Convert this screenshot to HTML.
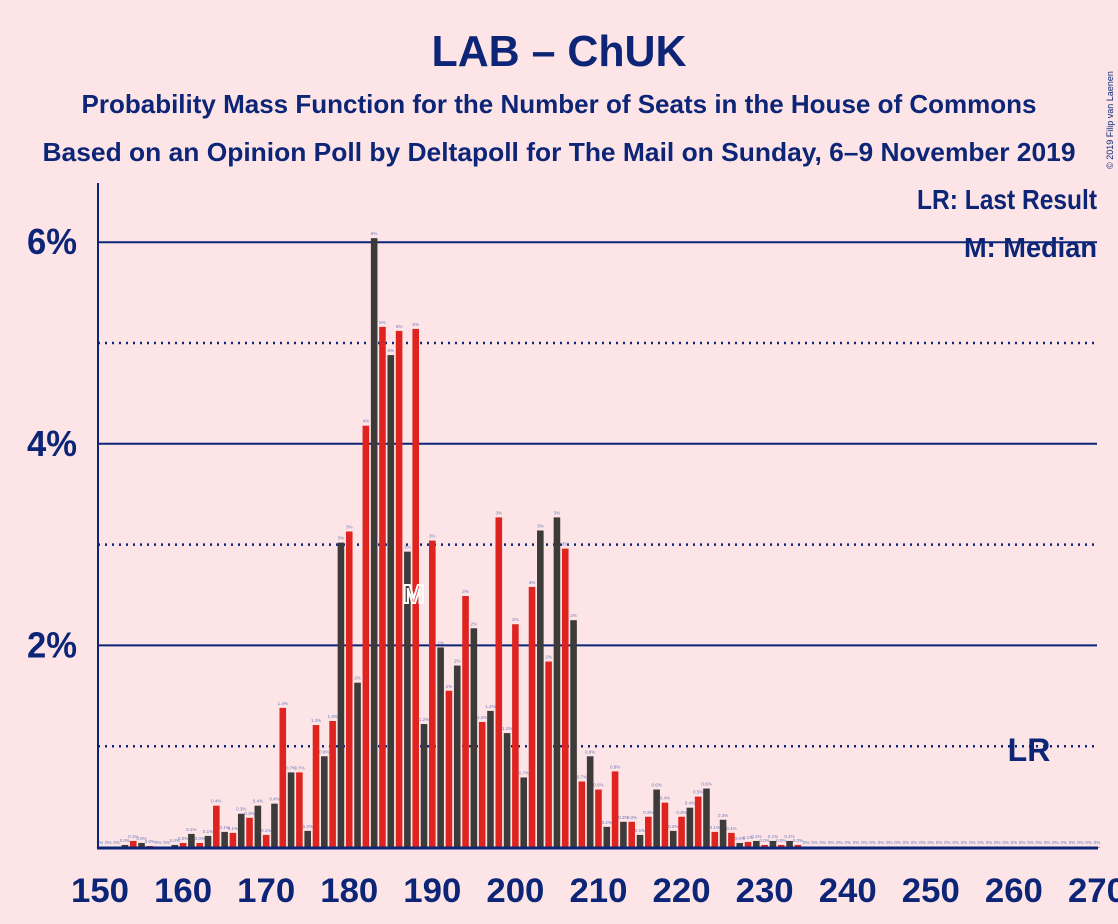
<!DOCTYPE html>
<html><head><meta charset="utf-8"><style>
body{margin:0;background:#fde5e7;overflow:hidden;}
svg{display:block;font-family:"Liberation Sans",sans-serif;}
</style></head><body>
<svg id="chart" width="1118" height="924" viewBox="0 0 1118 924">
<rect width="1118" height="924" fill="#fde5e7"/>
<text x="559" y="66" text-anchor="middle" font-size="44" font-weight="bold" fill="#0c2577" textLength="255" lengthAdjust="spacingAndGlyphs">LAB – ChUK</text>
<text x="559" y="113" text-anchor="middle" font-size="26" font-weight="bold" fill="#0c2577" textLength="955" lengthAdjust="spacingAndGlyphs">Probability Mass Function for the Number of Seats in the House of Commons</text>
<text x="559" y="161" text-anchor="middle" font-size="26" font-weight="bold" fill="#0c2577" textLength="1033" lengthAdjust="spacingAndGlyphs">Based on an Opinion Poll by Deltapoll for The Mail on Sunday, 6–9 November 2019</text>
<text x="1113" y="120" transform="rotate(-90 1113 120)" font-size="9" fill="#0c2577" text-anchor="middle">© 2019 Filip van Laenen</text>
<g id="grid"></g>
<g id="bars"></g>
<g id="axes"></g>
<text x="1097" y="209" text-anchor="end" font-size="28" font-weight="bold" fill="#0c2577" textLength="180" lengthAdjust="spacingAndGlyphs">LR: Last Result</text>
<text x="1097" y="257" text-anchor="end" font-size="28" font-weight="bold" fill="#0c2577" textLength="133" lengthAdjust="spacingAndGlyphs">M: Median</text>
<text x="1029" y="761" text-anchor="middle" font-size="32" font-weight="bold" fill="#0c2577">LR</text>
</svg>
<script>
const seats=[150,151,152,153,154,155,156,157,158,159,160,161,162,163,164,165,166,167,168,169,170,171,172,173,174,175,176,177,178,179,180,181,182,183,184,185,186,187,188,189,190,191,192,193,194,195,196,197,198,199,200,201,202,203,204,205,206,207,208,209,210,211,212,213,214,215,216,217,218,219,220,221,222,223,224,225,226,227,228,229,230,231,232,233,234,235,236,237,238,239,240,241,242,243,244,245,246,247,248,249,250,251,252,253,254,255,256,257,258,259,260,261,262,263,264,265,266,267,268,269,270];
const probs=[0,0,0,0.02,0.06,0.04,0.01,0,0,0.02,0.04,0.13,0.04,0.11,0.41,0.15,0.14,0.33,0.29,0.41,0.12,0.43,1.38,0.74,0.74,0.16,1.21,0.9,1.25,3.02,3.13,1.63,4.18,6.04,5.16,4.88,5.12,2.93,5.14,1.22,3.04,1.98,1.55,1.8,2.49,2.17,1.24,1.35,3.27,1.13,2.21,0.69,2.58,3.14,1.84,3.27,2.96,2.25,0.65,0.9,0.57,0.2,0.75,0.25,0.25,0.12,0.3,0.57,0.44,0.16,0.3,0.39,0.5,0.58,0.15,0.27,0.14,0.04,0.05,0.06,0.02,0.06,0.02,0.06,0.02,0,0,0,0,0,0,0,0,0,0,0,0,0,0,0,0,0,0,0,0,0,0,0,0,0,0,0,0,0,0,0,0,0,0,0,0];
const yTicks=[2,4,6];
const xTicks=[150,160,170,180,190,200,210,220,230,240,250,260,270];
const median=188, lastResult=262;
const NS="http://www.w3.org/2000/svg";
const X=s=>100+(s-150)*8.308;
const Y=p=>847-p*100.8;
function mk(tag,attrs,parent,txt){const e=document.createElementNS(NS,tag);for(const k in attrs)e.setAttribute(k,attrs[k]);if(txt!==undefined)e.textContent=txt;parent.appendChild(e);return e;}
const grid=document.getElementById('grid'),bars=document.getElementById('bars'),axes=document.getElementById('axes');
[1,2,3,4,5,6].forEach(p=>{
  const solid=p%2===0;
  const l=mk('line',{x1:98,x2:1097,y1:Y(p),y2:Y(p),stroke:'#0c2577','stroke-width':solid?2:2.5,'stroke-dasharray':solid?'':'2,5'},grid);
  
  
});
yTicks.forEach(p=>{
  const t=mk('text',{x:77,y:Y(p)+12,'text-anchor':'end','font-size':36,'font-weight':'bold',fill:'#0c2577',textLength:50,lengthAdjust:'spacingAndGlyphs'},axes,p+'%');
  
  
});
xTicks.forEach(s=>{
  const t=mk('text',{x:X(s),y:902,'text-anchor':'middle','font-size':34,'font-weight':'bold',fill:'#0c2577',textLength:58,lengthAdjust:'spacingAndGlyphs'},axes,String(s));
  
  
});
seats.forEach((s,i)=>{
  const p=probs[i];const x=X(s);
  const r=mk('rect',{x:x-3.3,y:Y(p),width:6.6,height:Math.max(p*100.8,0.5),fill:s%2===0?'#df2420':'#3c3b3a'},bars);
  
  
  const lab=p===0?'0%':(p>=1.5?Math.round(p)+'%':p.toFixed(1)+'%');
  const t=mk('text',{x:x,y:Y(p)-3,'text-anchor':'middle','font-size':4.5,fill:'#6a78b8'},bars,lab);
  
  
});
const m=mk('text',{x:X(median)-2,y:Y(2.5)+8,'text-anchor':'middle','font-size':26,'font-weight':'bold',fill:'none',stroke:'#ffffff','stroke-width':2},bars,'M');


const ya=mk('line',{x1:98,x2:98,y1:183,y2:848,stroke:'#0c2577','stroke-width':2},axes);


const xa=mk('line',{x1:97,x2:1098,y1:848,y2:848,stroke:'#0c2577','stroke-width':3},axes);


</script>
</body></html>
